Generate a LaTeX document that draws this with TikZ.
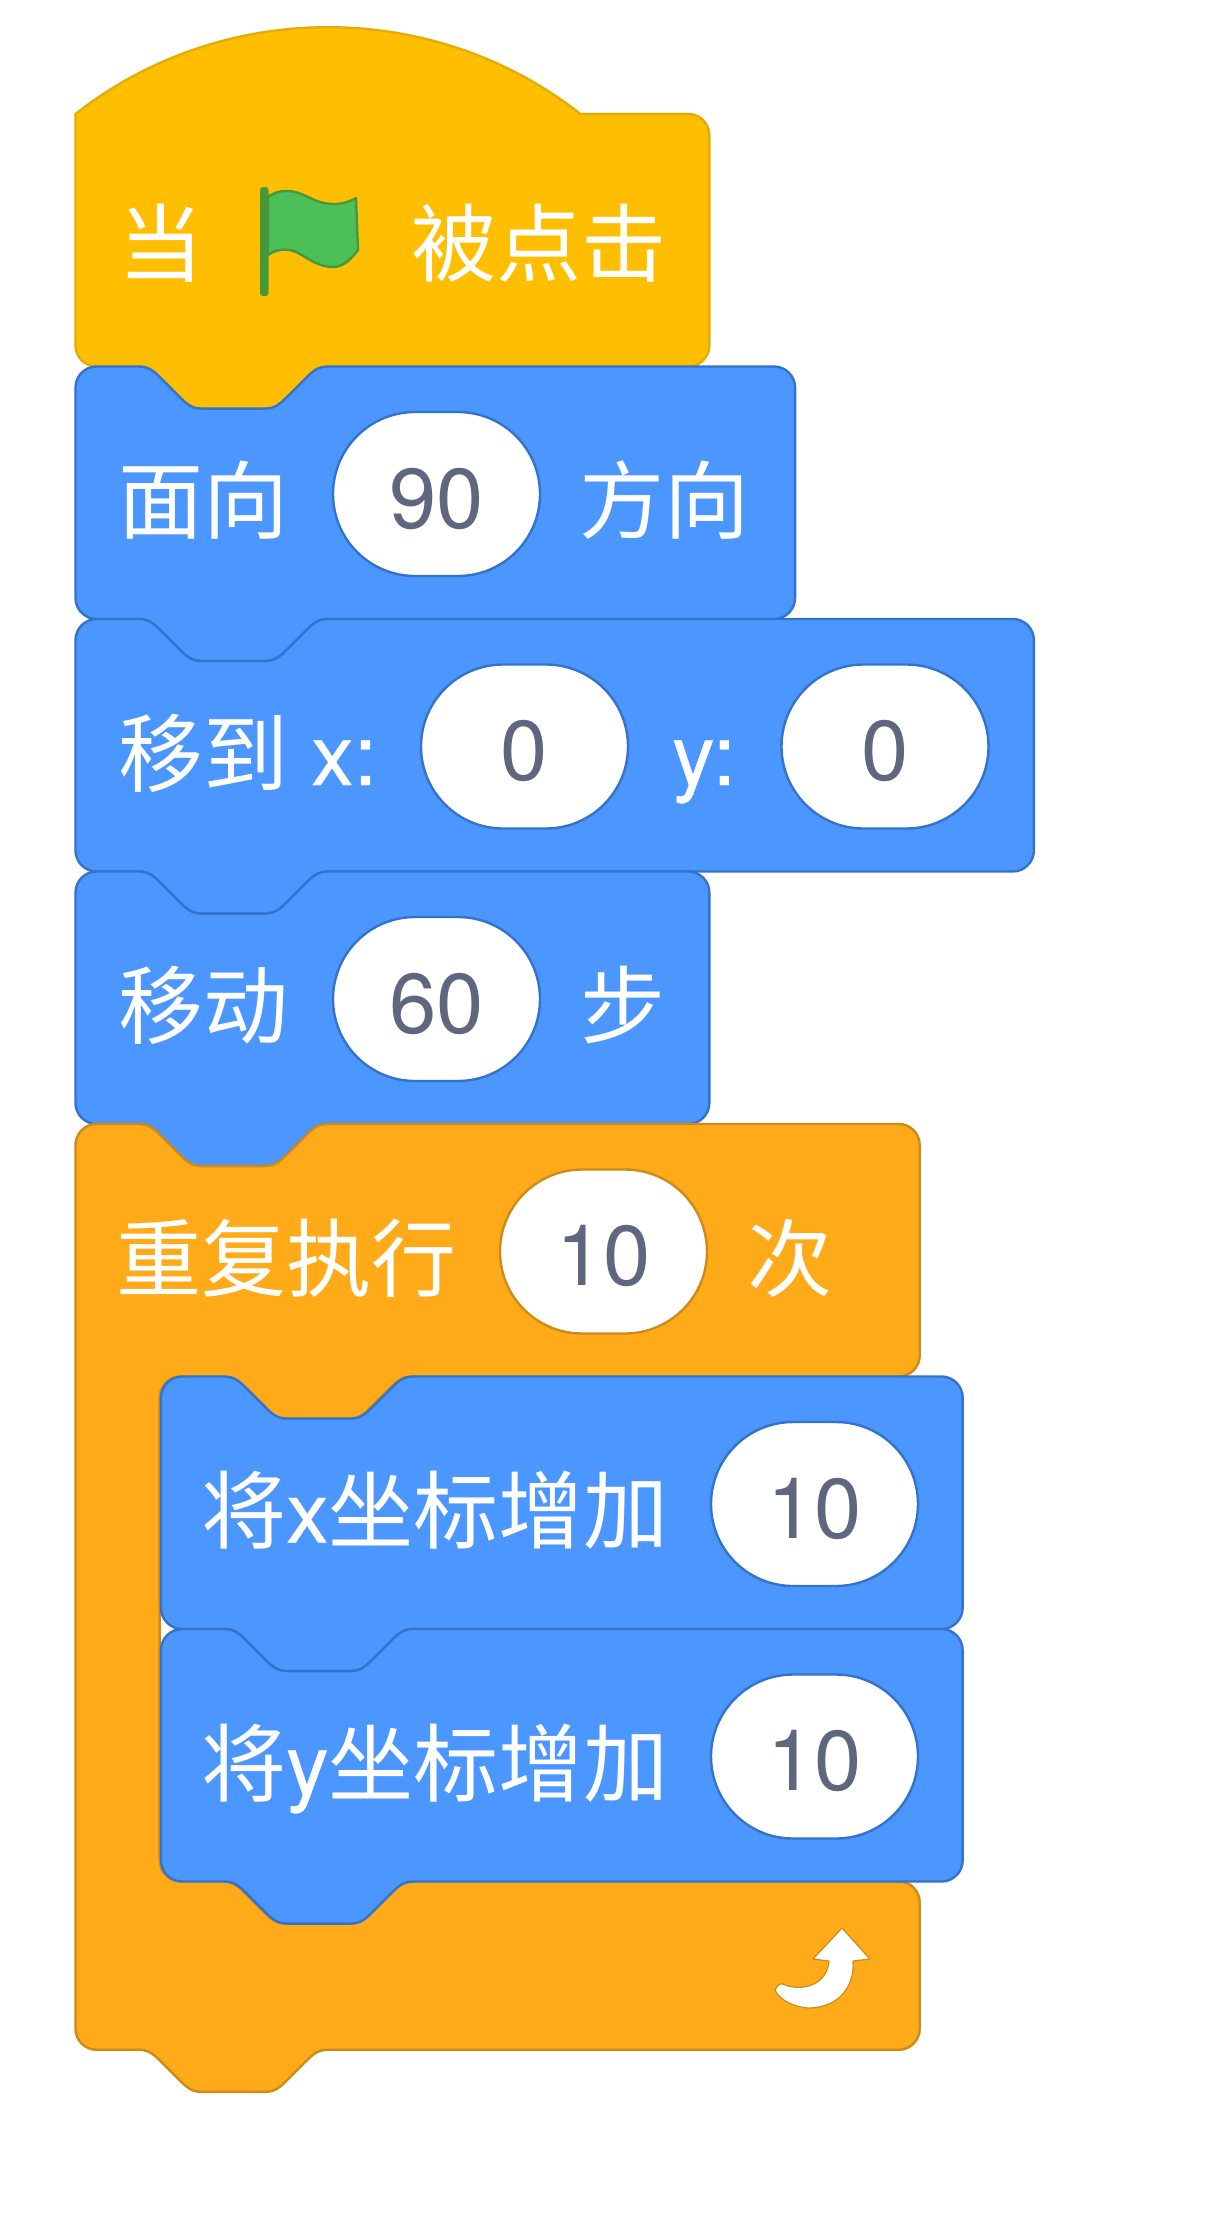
\documentclass[tikz,border=0pt]{standalone}
\usepackage{fontspec}
\usetikzlibrary{shapes.misc}
\setmainfont{TeX Gyre Heros}
\newfontfamily\lat{TeX Gyre Heros}[FakeBold=0.4]
\newfontfamily\cjk{Noto Sans CJK SC}
\definecolor{hatfill}{HTML}{FFBF00}
\definecolor{hatline}{HTML}{E6AC00}
\definecolor{motionfill}{HTML}{4C97FF}
\definecolor{motionline}{HTML}{3373CC}
\definecolor{ctrlfill}{HTML}{FFAB19}
\definecolor{ctrlline}{HTML}{CF8B17}
\definecolor{flagfill}{HTML}{4CBF56}
\definecolor{flagline}{HTML}{45993D}
\definecolor{numtext}{HTML}{5F6680}
\tikzset{
  unit/.style={x=5.26pt,y=-5.26pt},
  hatblock/.style={fill=hatfill,draw=hatline,line width=2.4pt,line join=round},
  motionblock/.style={fill=motionfill,draw=motionline,line width=2.4pt,line join=round},
  ctrlblock/.style={fill=ctrlfill,draw=ctrlline,line width=2.4pt,line join=round},
  label/.style={anchor=base west,inner sep=0pt,text=white,font=\fontsize{85}{85}\selectfont},
  pill/.style={rounded rectangle,minimum width=207pt,minimum height=164pt,inner sep=0pt,
    fill=white,line width=2.4pt,text=numtext,font=\fontsize{85}{85}\selectfont,
    text height=68pt,text depth=0pt},
  motionpill/.style={pill,draw=motionline},
  ctrlpill/.style={pill,draw=ctrlline}
}
% notch cut into a top edge at height #1, left to right, offset #2
\newcommand{\topnotch}[2]{-- (#2+12,#1) .. controls (#2+14,#1) and (#2+15,#1+1) .. (#2+16,#1+2)
  -- (#2+20,#1+6) .. controls (#2+21,#1+7) and (#2+22,#1+8) .. (#2+24,#1+8)
  -- (#2+36,#1+8) .. controls (#2+38,#1+8) and (#2+39,#1+7) .. (#2+40,#1+6)
  -- (#2+44,#1+2) .. controls (#2+45,#1+1) and (#2+46,#1) .. (#2+48,#1)}
% same notch on a bottom edge, right to left
\newcommand{\botnotch}[2]{-- (#2+48,#1) .. controls (#2+46,#1) and (#2+45,#1+1) .. (#2+44,#1+2)
  -- (#2+40,#1+6) .. controls (#2+39,#1+7) and (#2+38,#1+8) .. (#2+36,#1+8)
  -- (#2+24,#1+8) .. controls (#2+22,#1+8) and (#2+21,#1+7) .. (#2+20,#1+6)
  -- (#2+16,#1+2) .. controls (#2+15,#1+1) and (#2+14,#1) .. (#2+12,#1)}
% #1 style, #2 x, #3 y, #4 width in units
\newcommand{\stackblock}[4]{%
  \draw[#1,shift={(#2,#3)},unit] (0,4) .. controls (0,1.8) and (1.8,0) .. (4,0)
    \topnotch{0}{0} -- (#4-4,0) .. controls (#4-1.8,0) and (#4,1.8) .. (#4,4)
    -- (#4,44) .. controls (#4,46.2) and (#4-1.8,48) .. (#4-4,48)
    \botnotch{48}{0} -- (4,48) .. controls (1.8,48) and (0,46.2) .. (0,44) -- cycle;}
\begin{document}
\begin{tikzpicture}[x=1pt,y=-1pt]
\useasboundingbox[fill=white] (0,0) rectangle (1216,2220);
% hat block
\draw[hatblock,shift={(75.5,114)},unit] (0,0) .. controls (28,-22) and (68,-22) .. (96,0)
  -- (116.5,0) .. controls (118.7,0) and (120.5,1.8) .. (120.5,4)
  -- (120.5,44) .. controls (120.5,46.2) and (118.7,48) .. (116.5,48)
  \botnotch{48}{0} -- (4,48) .. controls (1.8,48) and (0,46.2) .. (0,44) -- cycle;
% motion blocks
\stackblock{motionblock}{75.5}{366.5}{136.8}
\stackblock{motionblock}{75.5}{619}{182.2}
\stackblock{motionblock}{75.5}{871.5}{120.5}
% repeat block
\draw[ctrlblock,shift={(75.5,1124)},unit] (0,4) .. controls (0,1.8) and (1.8,0) .. (4,0)
  \topnotch{0}{0} -- (156.5,0) .. controls (158.7,0) and (160.5,1.8) .. (160.5,4)
  -- (160.5,44) .. controls (160.5,46.2) and (158.7,48) .. (156.5,48)
  \botnotch{48}{16} -- (20,48) .. controls (17.8,48) and (16,49.8) .. (16,52)
  -- (16,140) .. controls (16,142.2) and (17.8,144) .. (20,144)
  \topnotch{144}{16} -- (156.5,144) .. controls (158.7,144) and (160.5,145.8) .. (160.5,148)
  -- (160.5,172) .. controls (160.5,174.2) and (158.7,176) .. (156.5,176)
  \botnotch{176}{0} -- (4,176) .. controls (1.8,176) and (0,174.2) .. (0,172) -- cycle;
% inner blocks
\stackblock{motionblock}{161}{1376.5}{152.4}
\stackblock{motionblock}{161}{1629}{152.4}
% flag
\fill[flagline,rounded corners=3pt] (260,187) rectangle (268.5,296);
\draw[fill=flagfill,draw=flagline,line width=2.4pt,line join=round]
  (268,197) .. controls (275,192) and (280,191) .. (287,191)
  .. controls (300,191) and (310,199) .. (320,202)
  .. controls (335,206) and (345,204) .. (356,198)
  -- (358,250) .. controls (350,261) and (342,267) .. (333,267)
  .. controls (320,267) and (310,260) .. (300,254)
  .. controls (290,248) and (278,248) .. (268,255) -- cycle;
% loop arrow
\draw[fill=white,draw=ctrlline,line width=1.2pt,line join=round]
  (842,1928) -- (870,1959) -- (853,1961)
  .. controls (855,1985) and (840,2008) .. (808,2008)
  .. controls (795,2007) and (780,2001) .. (775,1990)
  .. controls (777,1986) and (780,1983) .. (783,1984)
  .. controls (800,1992) and (827,1986) .. (829,1961)
  -- (813,1959) -- cycle;
% labels
\node[label] (whenA) at (118,275) {\cjk 当};
\node[label] (whenB) at (411,275) {\cjk 被点击};
\node[label] (faceA) at (118,532.5) {\cjk 面向};
\node[motionpill] (faceN) at (436.5,494) {90};
\node[label] (faceB) at (579,532.5) {\cjk 方向};
\node[label] (gotoA) at (118,785) {\cjk 移到};
\node[label] (gotoX) at (311,785) {\lat x:};
\node[motionpill] (gotoXN) at (524.5,746.5) {0};
\node[label] (gotoY) at (672,785) {\lat y:};
\node[motionpill] (gotoYN) at (885,746.5) {0};
\node[label] (moveA) at (118,1037.5) {\cjk 移动};
\node[motionpill] (moveN) at (436.5,999) {60};
\node[label] (moveB) at (580,1037.5) {\cjk 步};
\node[label] (repA) at (116,1290) {\cjk 重复执行};
\node[ctrlpill] (repN) at (603.5,1251.5) {10};
\node[label] (repB) at (747,1290) {\cjk 次};
\node[label] (incX) at (201,1542.5) {{\cjk 将}{\lat x}{\cjk 坐标增加}};
\node[motionpill] (incXN) at (814.5,1504) {10};
\node[label] (incY) at (201,1795) {{\cjk 将}{\lat y}{\cjk 坐标增加}};
\node[motionpill] (incYN) at (814.5,1756.5) {10};
\end{tikzpicture}
\end{document}
